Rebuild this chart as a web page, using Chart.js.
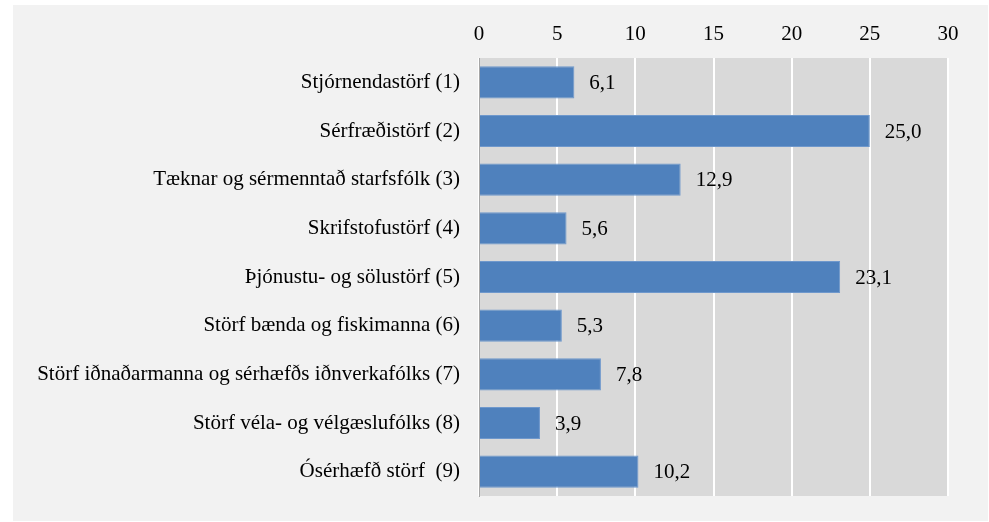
<!DOCTYPE html>
<html><head><meta charset="utf-8">
<script src="https://cdn.jsdelivr.net/npm/chart.js@4"></script>
<style>html,body{margin:0;padding:0;background:#fff;}#wrap{width:989px;height:522px;position:relative;}</style>
</head><body><div id="wrap"><canvas id="c" width="989" height="522"></canvas></div>
<script>
const categories = ["Stjórnendastörf (1)","Sérfræðistörf (2)","Tæknar og sérmenntað starfsfólk (3)","Skrifstofustörf (4)","Þjónustu- og sölustörf (5)","Störf bænda og fiskimanna (6)","Störf iðnaðarmanna og sérhæfðs iðnverkafólks (7)","Störf véla- og vélgæslufólks (8)","Ósérhæfð störf  (9)"];
const values = [6.1,25.0,12.9,5.6,23.1,5.3,7.8,3.9,10.2];
const xTicks = [0,5,10,15,20,25,30];

const FONT = "'Liberation Serif','Times New Roman',serif";

const bgPlugin = {
  id:'bg',
  beforeDraw(chart){
    const ctx = chart.ctx, a = chart.chartArea;
    ctx.save();
    ctx.fillStyle = '#f2f2f2';
    ctx.fillRect(13,5,975,516);
    ctx.fillStyle = '#d9d9d9';
    ctx.fillRect(a.left,a.top,a.right-a.left,a.bottom-a.top);
    ctx.restore();
  }
};
const labelPlugin = {
  id:'vals',
  afterDatasetsDraw(chart){
    const ctx = chart.ctx;
    const meta = chart.getDatasetMeta(0);
    ctx.save();
    ctx.font = "21px " + FONT;
    ctx.fillStyle = '#000';
    ctx.textBaseline = 'middle';
    ctx.textAlign = 'left';
    meta.data.forEach((el,i)=>{
      ctx.fillText(values[i].toFixed(1).replace('.',','), el.x+15, el.y+1);
    });
    ctx.restore();
  }
};

new Chart(document.getElementById('c'),{
  type:'bar',
  data:{labels:categories,datasets:[{data:values,backgroundColor:'#4f81bd',borderColor:'#6f98cc',borderWidth:1,borderSkipped:'left',barPercentage:0.66,categoryPercentage:1}]},
  options:{
    indexAxis:'y',
    responsive:false,
    animation:false,
    devicePixelRatio:1,
    layout:{padding:{left:0,right:41,top:0,bottom:26}},
    plugins:{legend:{display:false},tooltip:{enabled:false}},
    scales:{
      x:{
        position:'top',min:0,max:30,
        afterBuildTicks(s){ s.ticks = xTicks.map(v=>({value:v})); },
        afterFit(s){ s.height = 58; s.paddingLeft = 0; s.paddingRight = 0; },
        grid:{color:'#ffffff',lineWidth:2,drawTicks:false},
        border:{display:false},
        ticks:{font:{family:FONT,size:21},color:'#000',padding:11}
      },
      y:{
        afterFit(s){ s.width = 479; s.paddingTop = 0; s.paddingBottom = 0; },
        grid:{display:false,drawTicks:false},
        border:{display:true,color:'#a6a6a6',width:1},
        ticks:{font:{family:FONT,size:21},color:'#000',padding:19}
      }
    }
  },
  plugins:[bgPlugin,labelPlugin]
});
</script></body></html>
